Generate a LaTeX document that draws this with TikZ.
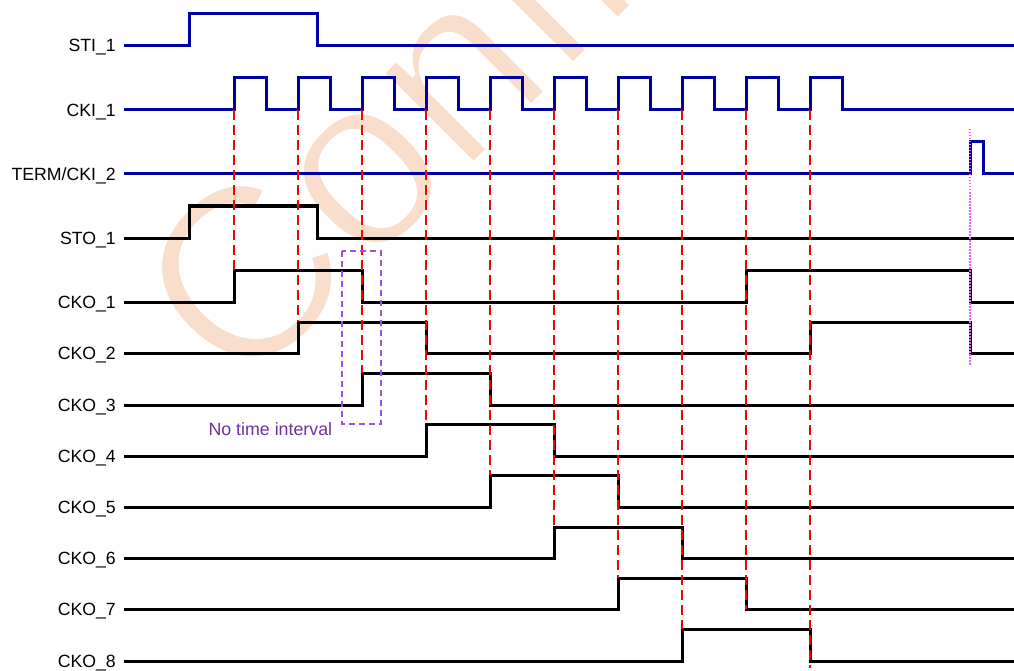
\documentclass[tikz,border=0pt]{standalone}
\usepackage{fontspec}
\setmainfont{Liberation Sans}
\definecolor{sigblue}{RGB}{0,0,160}
\definecolor{wmcol}{RGB}{249,222,203}
\definecolor{ntext}{RGB}{112,48,160}
\definecolor{nbox}{RGB}{155,80,230}
\definecolor{magline}{RGB}{255,90,255}
\begin{document}
\begin{tikzpicture}[x=1pt,y=-1pt,
  lbl/.style={anchor=base east,inner sep=0pt,font=\fontsize{17.7}{20}\selectfont},
  wmark/.style={anchor=base west,inner sep=0pt,rotate=45,text=wmcol,font=\fontsize{245}{245}\selectfont},
  bsig/.style={draw=sigblue,line width=3pt},
  ksig/.style={draw=black,line width=3pt},
  guide/.style={draw=red,line width=2.2pt,dash pattern=on 10pt off 5pt},
  termguide/.style={draw=magline,line width=1.8pt,dash pattern=on 1.5pt off 1.5pt},
  gapbox/.style={draw=nbox,line width=1.7pt,dash pattern=on 6pt off 4pt},
  gaptext/.style={anchor=base west,inner sep=0pt,text=ntext,font=\fontsize{17.8}{20}\selectfont}]
\useasboundingbox (0,0) rectangle (1014,671);
\begin{scope}
\clip (0,0) rectangle (1014,671);
\node[wmark] (wmk) at (240,398) {\special{pdf:literal direct 2 Tr 1 1 1 RG 5 w}Confidential\special{pdf:literal direct 0 Tr}};
\end{scope}
% labels
\node[lbl] (lsti) at (116,52.0) {STI\_1};
\node[lbl] (lcki) at (116,116.3) {CKI\_1};
\node[lbl] (lterm) at (116,180.3) {TERM/CKI\_2};
\node[lbl] (lsto) at (116,244.6) {STO\_1};
\node[lbl] (lcko1) at (116,308.6) {CKO\_1};
\node[lbl] (lcko2) at (116,359.8) {CKO\_2};
\node[lbl] (lcko3) at (116,411.0) {CKO\_3};
\node[lbl] (lcko4) at (116,462.2) {CKO\_4};
\node[lbl] (lcko5) at (116,513.4) {CKO\_5};
\node[lbl] (lcko6) at (116,564.6) {CKO\_6};
\node[lbl] (lcko7) at (116,615.8) {CKO\_7};
\node[lbl] (lcko8) at (116,667.0) {CKO\_8};
% input signals
\draw[bsig] (124,46) -| (189,14) -| (317,46) -- (1014,46);
\draw[bsig] (124,110) foreach \k in {0,...,9} { -- ({234+64*\k},110) -- ({234+64*\k},78) -- ({266+64*\k},78) -- ({266+64*\k},110) } -- (1014,110);
\draw[bsig] (124,174) -| (970,142) -| (983,174) -- (1014,174);
% output signals
\draw[ksig] (124,238) -| (189,206) -| (317,238) -- (1014,238);
\draw[ksig] (124,302) -| (234,270) -| (362,302) -| (746,270) -| (970,302) -- (1014,302);
\draw[ksig] (124,353) -| (298,322) -| (426,353) -| (810,322) -| (970,353) -- (1014,353);
\draw[ksig] (124,405) -| (362,373) -| (490,405) -- (1014,405);
\draw[ksig] (124,456) -| (426,424) -| (554,456) -- (1014,456);
\draw[ksig] (124,507) -| (490,475) -| (618,507) -- (1014,507);
\draw[ksig] (124,558) -| (554,527) -| (682,558) -- (1014,558);
\draw[ksig] (124,609) -| (618,578) -| (746,609) -- (1014,609);
\draw[ksig] (124,661) -| (682,629) -| (810,661) -- (1014,661);
% timing guides
\foreach \x/\e in {234/270, 298/322, 362/373, 426/424, 490/475, 554/527, 618/578, 682/629, 746/609, 810/668}
  \draw[guide] (\x,110) -- (\x,\e);
\draw[termguide] (970,129) -- (970,365);
% no time interval marker
\draw[gapbox] (342,251) rectangle (381,424);
\node[gaptext] (nti) at (208.3,435.7) {No time interval};
\end{tikzpicture}
\end{document}
